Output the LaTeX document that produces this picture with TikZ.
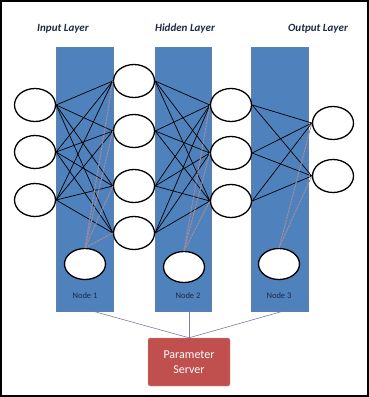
\documentclass[tikz,border=0pt]{standalone}
\usepackage{fontspec}
\setmainfont{Carlito}
\usetikzlibrary{
    positioning,
    shapes.geometric
}
\definecolor{colblue}{HTML}{4F81BD}
\definecolor{srvred}{HTML}{C0504D}
\definecolor{navy}{HTML}{1F2A44}
\definecolor{wire}{HTML}{7B7BA6}
\definecolor{syncgray}{HTML}{A08C9C}
\tikzset{
    layercol/.style={rectangle, draw=colblue!70!gray, fill=colblue, minimum width=57pt,
        minimum height=264pt, inner sep=0pt},
    unit/.style={ellipse, draw=black, line width=1.3pt, fill=white, minimum width=41pt,
        minimum height=33pt, inner sep=0pt},
    worker/.style={unit, minimum height=31pt},
    link/.style={black, line width=0.7pt},
    sync/.style={syncgray, line width=1pt, dash pattern=on 2.5pt off 0.8pt},
    uplink/.style={wire, line width=0.6pt},
    title/.style={font=\bfseries\itshape\fontsize{11}{13}\selectfont, text=navy},
    note/.style={font=\fontsize{8.5}{10}\selectfont, text=navy},
    server/.style={rectangle, rounded corners=2pt, draw=srvred!60!white, fill=srvred,
        text=white, minimum width=82pt, minimum height=48pt, align=center,
        font=\fontsize{12}{15}\selectfont}
}

\begin{document}
\begin{tikzpicture}[x=1pt, y=-1pt]
    \useasboundingbox (0,0) rectangle (369,397);
    \draw[line width=1.5pt] (1,1) rectangle (368,396);

    % layer titles
    \node[title] (tin) at (63,29) {Input Layer};
    \node[title] (thid) at (185,29) {Hidden Layer};
    \node[title] (tout) at (318,29) {Output Layer};

    % one column per machine
    \node[layercol] (col1) at (84.5,179) {};
    \node[layercol, minimum width=56pt] (col2) at (183,179) {};
    \node[layercol] (col3) at (279.5,179) {};
    \node[note] (lab1) at (85,296) {Node 1};
    \node[note] (lab2) at (188,296) {Node 2};
    \node[note] (lab3) at (279,296) {Node 3};

    % units
    \node[unit] (in1) at (35,105) {};
    \node[unit] (in2) at (35,152) {};
    \node[unit] (in3) at (35,200) {};
    \node[unit] (h1) at (134,81) {};
    \node[unit] (h2) at (134,131) {};
    \node[unit] (h3) at (134,186) {};
    \node[unit] (h4) at (134,233) {};
    \node[unit] (g1) at (231,105) {};
    \node[unit] (g2) at (231,153) {};
    \node[unit] (g3) at (231,201) {};
    \node[unit] (out1) at (333,123) {};
    \node[unit] (out2) at (333,176) {};
    \node[worker] (w1) at (85,264) {};
    \node[worker] (w2) at (184,267) {};
    \node[worker] (w3) at (279,264) {};

    % weights
    \foreach \i in {1,2,3}
        \foreach \j in {1,...,4}
            \draw[link] (in\i.east) -- (h\j.west);
    \foreach \i in {1,...,4}
        \foreach \j in {1,2,3}
            \draw[link] (h\i.east) -- (g\j.west);
    \foreach \i in {1,2,3}
        \foreach \j in {1,2}
            \draw[link] (g\i.east) -- (out\j.west);

    % worker updates
    \foreach \j in {1,...,4}
        \draw[sync] (w1.north) -- (h\j.west);
    \foreach \j in {1,2,3}
        \draw[sync] (w2.north) -- (g\j.west);
    \foreach \j in {1,2}
        \draw[sync] (w3.north) -- (out\j.west);

    % parameter server
    \node[server] (ps) at (189,362) {Parameter\\Server};
    \draw[uplink] ([xshift=8.5pt]col1.south) -- (ps.north);
    \draw[uplink] (col2.south -| ps.north) -- (ps.north);
    \draw[uplink] ([xshift=3.5pt]col3.south) -- (ps.north);
\end{tikzpicture}
\end{document}
